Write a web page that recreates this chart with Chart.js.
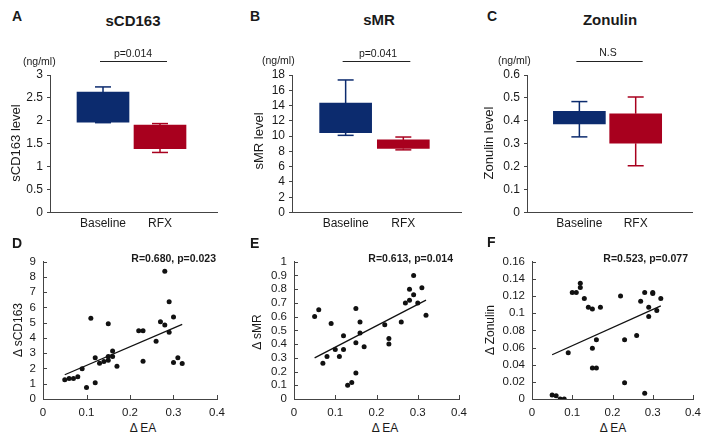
<!DOCTYPE html>
<html><head><meta charset="utf-8">
<script src="https://cdn.jsdelivr.net/npm/chart.js@4.4.0/dist/chart.umd.min.js"></script>
<style>
body{margin:0;width:710px;height:443px;background:#fff;position:relative;overflow:hidden;font-family:"Liberation Sans",Arial,sans-serif;color:#1a1a1a}
canvas{position:absolute}
.t{position:absolute;white-space:nowrap;line-height:1}
</style></head><body>
<script>
// ---------- data ----------
const groups = ['Baseline', 'RFX'];

const sCD163Q1 = [1.97, 1.39];
const sCD163Q3 = [2.63, 1.91];
const sCD163Min = [1.96, 1.31];
const sCD163Max = [2.74, 1.94];

const sMRQ1 = [10.45, 8.38];
const sMRQ3 = [14.33, 9.50];
const sMRMin = [10.10, 8.20];
const sMRMax = [17.35, 9.88];

const zonulinQ1 = [0.387, 0.302];
const zonulinQ3 = [0.441, 0.431];
const zonulinMin = [0.330, 0.204];
const zonulinMax = [0.484, 0.504];

const pLabels = ['p=0.014', 'p=0.041', 'N.S'];
const rLabels = ['R=0.680, p=0.023', 'R=0.613, p=0.014', 'R=0.523, p=0.077'];

const eaD = [0.05,0.06,0.07,0.08,0.09,0.10,0.11,0.12,0.12,0.13,0.14,0.15,0.15,0.15,0.16,0.16,0.17,0.22,0.23,0.23,0.26,0.27,0.28,0.28,0.29,0.29,0.30,0.30,0.31,0.32];
const dSCD163 = [1.26,1.35,1.35,1.46,1.98,0.76,5.30,2.70,1.07,2.35,2.46,4.93,2.54,2.78,3.15,2.78,2.15,4.48,4.48,2.48,3.78,5.07,8.37,4.85,6.37,4.37,5.37,2.39,2.70,2.33];
const fitD = [[0.05, 1.59], [0.32, 4.89]];

const eaE = [0.05,0.06,0.07,0.08,0.09,0.10,0.11,0.12,0.12,0.13,0.14,0.15,0.15,0.15,0.16,0.16,0.17,0.22,0.23,0.23,0.26,0.27,0.28,0.28,0.29,0.29,0.30,0.31,0.32];
const dSMR = [0.60,0.65,0.26,0.31,0.55,0.36,0.31,0.46,0.36,0.10,0.12,0.66,0.41,0.19,0.56,0.48,0.38,0.54,0.44,0.40,0.56,0.70,0.80,0.72,0.90,0.76,0.70,0.81,0.61];
const fitE = [[0.05, 0.30], [0.32, 0.72]];

const eaF = [0.05,0.06,0.07,0.08,0.09,0.10,0.11,0.12,0.12,0.13,0.14,0.15,0.15,0.15,0.16,0.16,0.17,0.22,0.23,0.23,0.26,0.27,0.28,0.28,0.29,0.29,0.30,0.30,0.31,0.32];
const dZonulin = [0.0047,0.0039,0,0,0.054,0.124,0.124,0.130,0.135,0.117,0.107,0.105,0.059,0.036,0.069,0.036,0.107,0.120,0.069,0.019,0.074,0.114,0.124,0.0066,0.107,0.096,0.124,0.123,0.103,0.117];
const fitF = [[0.05, 0.0516], [0.32, 0.1085]];

// ---------- styling ----------
const NAVY = '#0c2b6e', RED = '#a8001e', AX = '#444', TXT = '#1a1a1a';
const FONT = '"Liberation Sans", Arial, sans-serif';
Chart.defaults.font.family = FONT;
Chart.defaults.color = TXT;

const whiskerPlugin = {
  id: 'whiskers',
  afterDatasetsDraw(chart) {
    const o = chart.options.plugins.whiskers;
    if (!o || !o.q1) return;
    const {ctx, scales: {x, y}} = chart;
    ctx.save();
    ctx.lineWidth = 1.5;
    o.q1.forEach((_, i) => {
      const px = x.getPixelForValue(i + 1);
      ctx.strokeStyle = o.colors[i];
      const seg = (a, b) => {
        ctx.beginPath(); ctx.moveTo(px, y.getPixelForValue(a)); ctx.lineTo(px, y.getPixelForValue(b)); ctx.stroke();
        ctx.beginPath(); ctx.moveTo(px - 8, y.getPixelForValue(b)); ctx.lineTo(px + 8, y.getPixelForValue(b)); ctx.stroke();
      };
      seg(o.q3[i], o.hi[i]);
      seg(o.q1[i], o.lo[i]);
    });
    ctx.strokeStyle = '#222'; ctx.lineWidth = 1.2;
    ctx.beginPath();
    ctx.moveTo(x.getPixelForValue(1) - 3, o.sigY);
    ctx.lineTo(x.getPixelForValue(2) + 7, o.sigY);
    ctx.stroke();
    ctx.restore();
  }
};
const innerTicks = {
  id: 'innerTicks',
  afterDraw(chart) {
    if (!chart.options.plugins.innerTicks || !chart.options.plugins.innerTicks.on) return;
    const {ctx, scales: {x, y}, chartArea: a} = chart;
    ctx.save(); ctx.strokeStyle = AX; ctx.lineWidth = 1;
    y.ticks.forEach(t => {
      const py = Math.round(y.getPixelForValue(t.value)) + 0.5;
      ctx.beginPath(); ctx.moveTo(a.left, py); ctx.lineTo(a.left + 4, py); ctx.stroke();
    });
    x.ticks.forEach(t => {
      const px = Math.round(x.getPixelForValue(t.value)) + 0.5;
      ctx.beginPath(); ctx.moveTo(px, a.bottom); ctx.lineTo(px, a.bottom - 4); ctx.stroke();
    });
    ctx.restore();
  }
};
Chart.register(whiskerPlugin, innerTicks);

function makeCanvas(left, top, w, h) {
  const c = document.createElement('canvas');
  c.width = w; c.height = h;
  c.style.left = left + 'px'; c.style.top = top + 'px';
  c.style.width = w + 'px'; c.style.height = h + 'px';
  document.body.appendChild(c);
  return c.getContext('2d');
}
function addText(s, x, y, size, bold, align, rotate) {
  const d = document.createElement('div');
  d.className = 't'; d.textContent = s;
  d.style.fontSize = size + 'px';
  if (bold) d.style.fontWeight = 'bold';
  d.style.left = x + 'px'; d.style.top = y + 'px';
  const tx = align === 'center' ? '-50%' : align === 'right' ? '-100%' : '0';
  d.style.transform = 'translate(' + tx + ',-50%)' + (rotate ? ' rotate(-90deg)' : '');
  document.body.appendChild(d);
}
const fmt = {minimumFractionDigits: 0, maximumFractionDigits: 3};

function boxChart(left, width, q1, q3, lo, hi, yMax, yStep) {
  const ctx = makeCanvas(left, 45, width, 190);
  new Chart(ctx, {
    type: 'bar',
    data: {datasets: [{
      data: groups.map((g, i) => ({x: i + 1, y: [q1[i], q3[i]]})),
      backgroundColor: [NAVY, RED], borderWidth: 0, barThickness: 52
    }]},
    options: {
      responsive: false, animation: false, devicePixelRatio: 1,
      layout: {padding: {top: 30, right: 8, left: 0, bottom: 0}},
      plugins: {legend: {display: false}, tooltip: {enabled: false},
        whiskers: {q1, q3, lo, hi, colors: [NAVY, RED], sigY: 16.5}},
      scales: {
        x: {type: 'linear', min: 0.07, max: 3.0, offset: false,
          grid: {drawOnChartArea: false, drawTicks: false},
          border: {color: AX, width: 1},
          ticks: {font: {size: 12}, padding: 4, color: TXT, autoSkip: false,
            callback: v => groups[Math.round(v) - 1] || ''},
          afterBuildTicks: s => { s.ticks = groups.map((g, i) => ({value: i + 1})); },
          afterFit: s => { s.height = 22.5; s.paddingLeft = 0; s.paddingRight = 0; }
        },
        y: {min: 0, max: yMax,
          ticks: {stepSize: yStep, font: {size: 12}, padding: 4, color: TXT, autoSkip: false, format: fmt},
          grid: {drawOnChartArea: false, tickLength: 3, color: AX},
          border: {color: AX, width: 1},
          afterFit: s => { s.width = 45; s.paddingTop = 0; s.paddingBottom = 0; }
        }
      }
    }
  });
}

function scatterChart(left, width, xs, ys, fit, yMax, yStep) {
  const ctx = makeCanvas(left, 250, width, 171);
  new Chart(ctx, {
    type: 'scatter',
    data: {datasets: [
      {type: 'line', data: fit.map(p => ({x: p[0], y: p[1]})), borderColor: '#111', borderWidth: 1.3, pointRadius: 0, fill: false},
      {data: xs.map((v, i) => ({x: v, y: ys[i]})), backgroundColor: '#111', borderWidth: 0, pointRadius: 2.5}
    ]},
    options: {
      responsive: false, animation: false, devicePixelRatio: 1,
      layout: {padding: {top: 11.7, right: 8, left: 0, bottom: 0}},
      plugins: {legend: {display: false}, tooltip: {enabled: false}, innerTicks: {on: true}},
      scales: {
        x: {type: 'linear', min: 0, max: 0.4,
          ticks: {stepSize: 0.1, font: {size: 11.5}, padding: 7, color: TXT, format: fmt, autoSkip: false},
          grid: {drawOnChartArea: false, drawTicks: false},
          border: {color: AX, width: 1},
          afterFit: s => { s.height = 22; s.paddingLeft = 0; s.paddingRight = 0; }
        },
        y: {min: 0, max: yMax,
          ticks: {stepSize: yStep, font: {size: 11.5}, padding: 7, color: TXT, format: fmt, autoSkip: false},
          grid: {drawOnChartArea: false, drawTicks: false},
          border: {color: AX, width: 1},
          afterFit: s => { s.width = 40; s.paddingTop = 0; s.paddingBottom = 0; }
        }
      }
    }
  });
}

// top row
boxChart(5, 220, sCD163Q1, sCD163Q3, sCD163Min, sCD163Max, 3, 0.5);
boxChart(247, 222, sMRQ1, sMRQ3, sMRMin, sMRMax, 18, 2);
boxChart(482, 218, zonulinQ1, zonulinQ3, zonulinMin, zonulinMax, 0.6, 0.1);
// bottom row
scatterChart(3, 222, eaD, dSCD163, fitD, 9, 1);
scatterChart(254, 213, eaE, dSMR, fitE, 1, 0.1);
scatterChart(492, 209, eaF, dZonulin, fitF, 0.16, 0.02);

// texts
addText('A', 12, 16, 14, true, 'left');
addText('B', 250, 16, 14, true, 'left');
addText('C', 487, 16, 14, true, 'left');
addText('sCD163', 133, 20, 15, true, 'center');
addText('sMR', 379, 19, 15, true, 'center');
addText('Zonulin', 610, 19, 15, true, 'center');
addText('(ng/ml)', 23, 61, 10.5, false, 'left');
addText('(ng/ml)', 262, 60, 10.5, false, 'left');
addText('(ng/ml)', 498, 60, 10.5, false, 'left');
addText(pLabels[0], 133, 53, 10.5, false, 'center');
addText(pLabels[1], 378, 53, 10.5, false, 'center');
addText(pLabels[2], 608, 52, 10.5, false, 'center');
addText('sCD163 level', 15, 143, 13, false, 'center', true);
addText('sMR level', 258, 141, 13, false, 'center', true);
addText('Zonulin level', 488, 143, 13, false, 'center', true);

addText('D', 12, 243, 14, true, 'left');
addText('E', 250, 243, 14, true, 'left');
addText('F', 487, 242, 14, true, 'left');
addText(rLabels[0], 216, 258, 10.5, true, 'right');
addText(rLabels[1], 453, 258, 10.5, true, 'right');
addText(rLabels[2], 688, 258, 10.5, true, 'right');
addText('\u0394 EA', 143, 428, 12, false, 'center');
addText('\u0394 EA', 385, 428, 12, false, 'center');
addText('\u0394 EA', 613, 428, 12, false, 'center');
addText('\u0394 sCD163', 18, 330, 12, false, 'center', true);
addText('\u0394 sMR', 257, 332, 12, false, 'center', true);
addText('\u0394 Zonulin', 490, 330, 12, false, 'center', true);
</script>
</body></html>
